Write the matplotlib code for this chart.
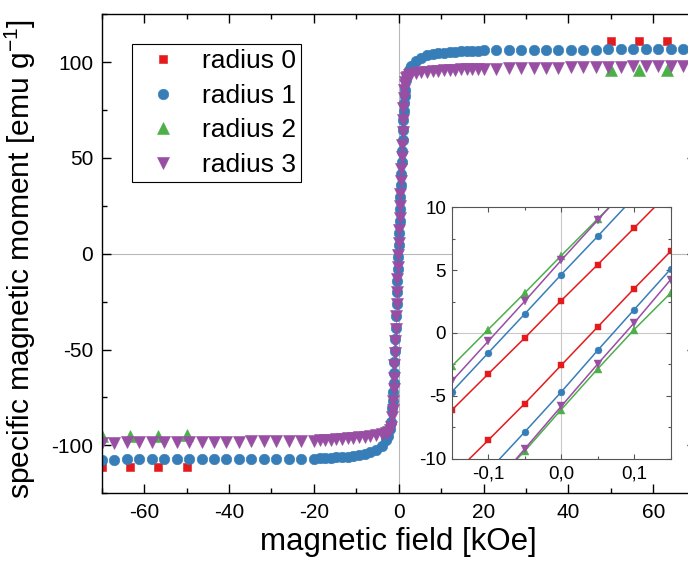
import matplotlib
matplotlib.use("Agg")
import matplotlib.pyplot as plt
from matplotlib.ticker import MultipleLocator

plt.rcParams['font.family'] = ['Liberation Sans', 'DejaVu Sans']
plt.rcParams['mathtext.fontset'] = 'custom'
plt.rcParams['mathtext.rm'] = 'Liberation Sans'
plt.rcParams['axes.unicode_minus'] = False

RED, BLUE, GREEN, PURPLE = "#e41a1c", "#377eb8", "#4daf4a", "#984ea3"

labels = ["radius 0", "radius 1", "radius 2", "radius 3"]

# --- main loop data (kOe, emu/g) ---
# radius 0 and radius 2: only the high-field points are visible
field_hi = [70.0, 63.33, 56.67, 50.0, -50.0, -56.67, -63.33, -70.0]
moment_r0 = [111.3, 111.3, 111.2, 111.2, -111.2, -111.2, -111.3, -111.3]
moment_r2 = [96.1, 96.1, 96.0, 96.0, -94.8, -94.9, -95.0, -95.0]

# radius 1 and radius 3 share the same field sweep
field = [70.0, 67.06, 64.12, 61.18, 58.24, 55.29, 52.35, 49.41, 46.47, 43.53,
         40.59, 37.65, 34.71, 31.76, 28.82, 25.88, 22.94, 20.0,
         18.67, 17.33, 16.0, 14.67, 13.33, 12.0, 10.67, 9.33, 8.0, 6.67, 5.33, 4.0,
         3.0, 2.5, 2.0, 1.75, 1.5, 1.4, 1.3, 1.2, 1.1, 1.0, 0.9, 0.8, 0.7, 0.6,
         0.5, 0.4, 0.3, 0.2, 0.1, 0.0,
         -0.1, -0.2, -0.3, -0.4, -0.5, -0.6, -0.7, -0.8, -0.9, -1.0, -1.1, -1.2,
         -1.3, -1.4, -1.5, -1.75, -2.0, -2.5, -3.0,
         -4.0, -5.33, -6.67, -8.0, -9.33, -10.67, -12.0, -13.33, -14.67, -16.0,
         -17.33, -18.67, -20.0,
         -22.94, -25.88, -28.82, -31.76, -34.71, -37.65, -40.59, -43.53, -46.47,
         -49.41, -52.35, -55.29, -58.24, -61.18, -64.12, -67.06, -70.0]

moment_r1 = [106.9, 106.9, 106.8, 106.8, 106.8, 106.7, 106.7, 106.7, 106.6, 106.6,
             106.6, 106.5, 106.5, 106.5, 106.4, 106.4, 106.3, 106.2,
             106.1, 106.0, 105.9, 105.7, 105.5, 105.3, 105.0, 104.7, 104.2, 103.5, 102.4, 100.4,
             97.8, 95.8, 93.1, 90.5, 85.5, 82.2, 78.5, 74.4, 69.8, 64.7, 59.4, 53.7, 47.8, 41.8,
             35.7, 29.5, 23.3, 17.1, 10.9, 4.6,
             -1.6, -7.8, -14.0, -20.2, -26.4, -32.6, -38.7, -44.7, -50.7, -56.6, -62.2, -67.4,
             -72.3, -76.7, -80.5, -87.7, -91.6, -95.2, -97.3,
             -100.2, -102.2, -103.5, -104.3, -104.9, -105.4, -105.8, -106.1, -106.3,
             -106.5, -106.7, -106.8, -106.9,
             -107.0, -107.0, -107.0, -107.1, -107.1, -107.1, -107.2, -107.2, -107.2,
             -107.2, -107.3, -107.3, -107.3, -107.3, -107.3, -107.4, -107.4]

moment_r3 = [98.3, 98.2, 98.1, 98.0, 97.9, 97.8, 97.7, 97.6, 97.5, 97.4,
             97.3, 97.2, 97.1, 97.0, 96.9, 96.8, 96.7, 96.6,
             96.5, 96.4, 96.3, 96.2, 96.1, 96.0, 95.8, 95.6, 95.4, 95.1, 94.7, 94.2,
             93.7, 93.2, 92.4, 91.5, 89.8, 88.0, 85.5, 81.5, 76.0, 69.8, 63.4, 57.0, 50.6, 44.2,
             37.8, 31.4, 25.0, 18.6, 12.2, 5.8,
             -0.6, -7.0, -13.4, -19.8, -26.2, -32.6, -39.0, -45.4, -51.8, -58.2, -64.6, -70.8,
             -76.6, -81.6, -85.4, -90.3, -91.9, -93.0, -93.6,
             -94.1, -94.6, -95.1, -95.5, -95.8, -96.1, -96.4, -96.7, -96.9,
             -97.1, -97.3, -97.4, -97.6,
             -97.7, -97.8, -97.8, -97.9, -97.9, -98.0, -98.0, -98.1, -98.1,
             -98.2, -98.2, -98.3, -98.3, -98.4, -98.4, -98.5, -98.5]

# --- inset: low-field part of both branches ---
field_zoom = [-0.15, -0.1, -0.05, 0.0, 0.05, 0.1, 0.15]
zoom_down_r0 = [-6.15, -3.26, -0.4, 2.57, 5.44, 8.36, 11.3]
zoom_up_r0 = [-11.4, -8.54, -5.62, -2.57, 0.48, 3.53, 6.5]
zoom_down_r1 = [-4.7, -1.59, 1.51, 4.64, 7.69, 10.8, 13.9]
zoom_up_r1 = [-14.2, -11.0, -7.88, -4.7, -1.38, 1.86, 5.09]
zoom_down_r2 = [-2.65, 0.27, 3.18, 6.15, 9.07, 12.0, 14.9]
zoom_up_r2 = [-15.5, -12.4, -9.4, -6.1, -2.86, 0.27, 3.18]
zoom_down_r3 = [-3.85, -0.66, 2.52, 5.78, 8.97, 12.2, 15.4]
zoom_up_r3 = [-15.9, -12.6, -9.23, -5.84, -2.47, 0.8, 4.24]
zoom_xticks = [-0.1, 0.0, 0.1]
zoom_xticklabels = ["-0,1", "0,0", "0,1"]

fig = plt.figure(figsize=(6.88, 5.74), dpi=100)
ax = fig.add_axes([0.1478, 0.1406, 0.8635, 0.8345])

ax.axhline(0, color="#b8b8b8", lw=0.8, zorder=0)
ax.axvline(0, color="#b8b8b8", lw=0.8, zorder=0)

ax.plot(field_hi, moment_r0, ls="none", marker="s", ms=6.2, color=RED, mew=0.4, label=labels[0])
ax.plot(field, moment_r1, ls="none", marker="o", ms=7.6, color=BLUE, mew=0.4, label=labels[1])
ax.plot(field_hi, moment_r2, ls="none", marker="^", ms=8.5, color=GREEN, mew=0.4, label=labels[2])
ax.plot(field, moment_r3, ls="none", marker="v", ms=8.5, color=PURPLE, mew=0.4, label=labels[3])

ax.set_xlim(-70, 70)
ax.set_ylim(-125, 125)
ax.xaxis.set_major_locator(MultipleLocator(20))
ax.xaxis.set_minor_locator(MultipleLocator(10))
ax.yaxis.set_major_locator(MultipleLocator(50))
ax.yaxis.set_minor_locator(MultipleLocator(25))
ax.tick_params(which="both", direction="in", top=True, right=True, width=1.0)
ax.tick_params(which="major", length=6.5)
ax.tick_params(which="minor", length=3.3)
ax.tick_params(axis="x", labelsize=15, pad=7)
ax.tick_params(axis="y", labelsize=15, pad=6)
for s in ax.spines.values():
    s.set_linewidth(1.0)

ax.set_xlabel("magnetic field [kOe]", fontsize=22.5)
ax.set_ylabel(r"specific magnetic moment [emu g$^{\mathregular{-1}}$]", fontsize=21.6)
ax.xaxis.set_label_coords(0.5, -0.07)
ax.yaxis.set_label_coords(-0.107, 0.49)

leg = ax.legend(loc="upper left", bbox_to_anchor=(0.0505, 0.938), borderaxespad=0,
                fontsize=19, numpoints=1, handlelength=2.0, handletextpad=0.45,
                borderpad=0.2, labelspacing=0.4, fancybox=False, framealpha=1)
leg.get_frame().set_edgecolor("black")
leg.get_frame().set_linewidth(0.8)

# --- inset ---
ins = fig.add_axes([0.6565, 0.2009, 0.3183, 0.438])
ins.axhline(0, color="#c8c8c8", lw=0.8, zorder=0)
ins.axvline(0, color="#c8c8c8", lw=0.8, zorder=0)
zoom_sets = [(zoom_down_r0, zoom_up_r0, RED, "s", 4.4),
             (zoom_down_r1, zoom_up_r1, BLUE, "o", 5.0),
             (zoom_down_r2, zoom_up_r2, GREEN, "^", 5.6),
             (zoom_down_r3, zoom_up_r3, PURPLE, "v", 5.6)]
for down, up, c, m, size in zoom_sets:
    ins.plot(field_zoom, down, color=c, lw=1.1, marker=m, ms=size, mew=0.3)
    ins.plot(field_zoom, up, color=c, lw=1.1, marker=m, ms=size, mew=0.3)
ins.set_xlim(-0.15, 0.15)
ins.set_ylim(-10, 10)
ins.set_xticks(zoom_xticks)
ins.set_xticklabels(zoom_xticklabels)
ins.xaxis.set_minor_locator(MultipleLocator(0.05))
ins.yaxis.set_major_locator(MultipleLocator(5))
ins.yaxis.set_minor_locator(MultipleLocator(2.5))
ins.tick_params(which="both", direction="in", top=True, right=True, width=0.8,
                color="#555555", labelsize=13.5)
ins.tick_params(which="major", length=3.5)
ins.tick_params(which="minor", length=2.2)
ins.tick_params(axis="x", pad=5)
ins.tick_params(axis="y", pad=4)
for s in ins.spines.values():
    s.set_linewidth(0.8)
    s.set_color("#555555")

fig.savefig("out.png", dpi=100)
